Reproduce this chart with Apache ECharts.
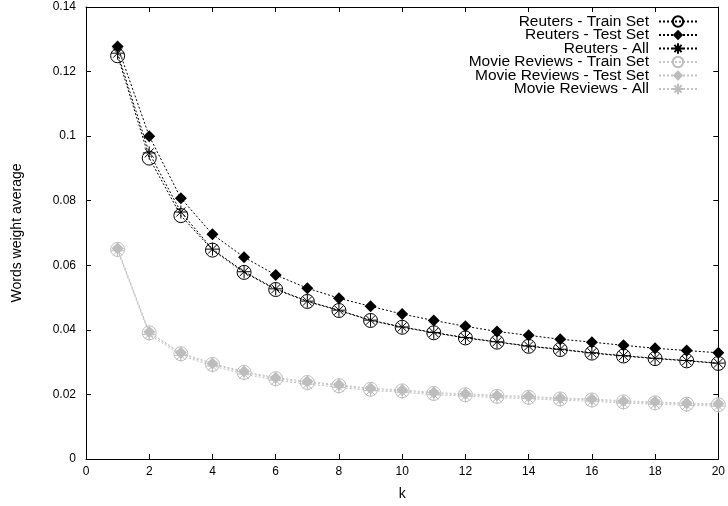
<!DOCTYPE html>
<html>
<head>
<meta charset="utf-8">
<script src="https://cdn.jsdelivr.net/npm/echarts@6/dist/echarts.min.js"></script>
<style>html,body{margin:0;padding:0;background:#fff}#c{width:728px;height:506px}</style>
</head>
<body>
<div id="c"></div>
<script>
var kValues = [1,2,3,4,5,6,7,8,9,10,11,12,13,14,15,16,17,18,19,20];
var reutersTrain = [0.1249,0.0932,0.0754,0.0647,0.0578,0.0525,0.0488,0.0460,0.0429,0.0408,0.0391,0.0375,0.0362,0.0349,0.0339,0.0328,0.0319,0.0311,0.0304,0.0296];
var reutersTest  = [0.1278,0.1000,0.0808,0.0696,0.0625,0.0570,0.0529,0.0498,0.0473,0.0449,0.0429,0.0411,0.0395,0.0383,0.0371,0.0362,0.0352,0.0343,0.0336,0.0329];
var reutersAll   = [0.1257,0.0948,0.0765,0.0650,0.0580,0.0527,0.0489,0.0461,0.0430,0.0409,0.0392,0.0376,0.0363,0.0350,0.0340,0.0329,0.0320,0.0312,0.0305,0.0297];
var movieTrain   = [0.0649,0.0391,0.0326,0.0293,0.0268,0.0249,0.0237,0.0227,0.0216,0.0211,0.0203,0.0199,0.0194,0.0191,0.0186,0.0183,0.0177,0.0174,0.0170,0.0168];
var movieTest    = [0.0652,0.0393,0.0329,0.0296,0.0271,0.0252,0.0240,0.0230,0.0219,0.0214,0.0206,0.0202,0.0197,0.0194,0.0189,0.0186,0.0180,0.0177,0.0173,0.0171];
var movieAll     = [0.0645,0.0386,0.0321,0.0288,0.0263,0.0244,0.0232,0.0222,0.0212,0.0207,0.0199,0.0195,0.0190,0.0187,0.0182,0.0179,0.0173,0.0170,0.0166,0.0164];
var seriesNames = ['Reuters - Train Set','Reuters - Test Set','Reuters - All','Movie Reviews - Train Set','Movie Reviews - Test Set','Movie Reviews - All'];
var xTicks = {min:0, max:20, interval:2};
var yTicks = {min:0, max:0.14, interval:0.02};

var FONT = 'Liberation Sans';
var STAR = 'path://M10,0L10,20M0,10L20,10M3,3L17,17M17,3L3,17';
function pairs(arr){ return kValues.map(function(k,i){ return [k, arr[i]]; }); }
function mk(name, arr, color, sym, size, filled, lineColor){
  return {
    name: name, type: 'line', data: pairs(arr),
    symbol: sym, symbolSize: size, showSymbol: true,
    lineStyle: {color: lineColor, width: 1, type: [2,2]},
    itemStyle: filled ? {color: color, borderColor: color, borderWidth: 0}
                      : {color: 'rgba(0,0,0,0)', borderColor: color, borderWidth: 1},
    emphasis: {disabled: true}, animation: false, z: 2
  };
}
var black = '#000', gray = '#bdbdbd', grayLine = '#c4c4c4';
var series = [
  mk(seriesNames[0], reutersTrain, black, 'circle', 14, false, black),
  mk(seriesNames[1], reutersTest, black, 'diamond', 12, true, black),
  mk(seriesNames[2], reutersAll, black, STAR, 13, false, black),
  mk(seriesNames[3], movieTrain, gray, 'circle', 14, false, grayLine),
  mk(seriesNames[4], movieTest, gray, 'diamond', 12, true, grayLine),
  mk(seriesNames[5], movieAll, gray, STAR, 13, false, grayLine)
];
var axisLine = {show: true, onZero: false, lineStyle: {color: '#000', width: 1}};
var chart = echarts.init(document.getElementById('c'), null, {renderer: 'canvas'});
chart.setOption({
  animation: false,
  backgroundColor: '#fff',
  textStyle: {fontFamily: FONT},
  grid: {left: 86, right: 4, top: 7, bottom: 45, containLabel: false},
  legend: {
    orient: 'vertical', right: 25, top: 8.5, align: 'right',
    itemWidth: 38, itemHeight: 13, itemGap: -2.5,
    textStyle: {fontFamily: FONT, fontSize: 15.5, color: '#000', lineHeight: 13, padding: [0, 5, 0, 0]},
    data: seriesNames, selectedMode: false
  },
  xAxis: [{
    type: 'value', min: xTicks.min, max: xTicks.max, interval: xTicks.interval,
    name: 'k', nameLocation: 'middle', nameGap: 28,
    nameTextStyle: {fontFamily: FONT, fontSize: 14, color: '#000'},
    axisLine: axisLine,
    axisTick: {show: true, inside: true, length: 5, lineStyle: {color: '#000'}},
    axisLabel: {fontFamily: FONT, fontSize: 12, color: '#000', margin: 7},
    splitLine: {show: false}
  },{
    type: 'value', position: 'top', min: xTicks.min, max: xTicks.max, interval: xTicks.interval,
    axisLine: axisLine,
    axisTick: {show: true, inside: true, length: 5, lineStyle: {color: '#000'}},
    axisLabel: {show: false}, splitLine: {show: false}
  }],
  yAxis: [{
    type: 'value', min: yTicks.min, max: yTicks.max, interval: yTicks.interval,
    name: 'Words weight average', nameLocation: 'middle', nameGap: 62,
    nameTextStyle: {fontFamily: FONT, fontSize: 14, color: '#000'},
    axisLine: axisLine,
    axisTick: {show: true, inside: true, length: 5, lineStyle: {color: '#000'}},
    axisLabel: {fontFamily: FONT, fontSize: 12, color: '#000', margin: 10,
      formatter: function(v){ return String(+v.toFixed(2)); }},
    splitLine: {show: false}
  },{
    type: 'value', position: 'right', min: yTicks.min, max: yTicks.max, interval: yTicks.interval,
    axisLine: axisLine,
    axisTick: {show: true, inside: true, length: 5, lineStyle: {color: '#000'}},
    axisLabel: {show: false}, splitLine: {show: false}
  }],
  series: series
});
</script>
</body>
</html>
